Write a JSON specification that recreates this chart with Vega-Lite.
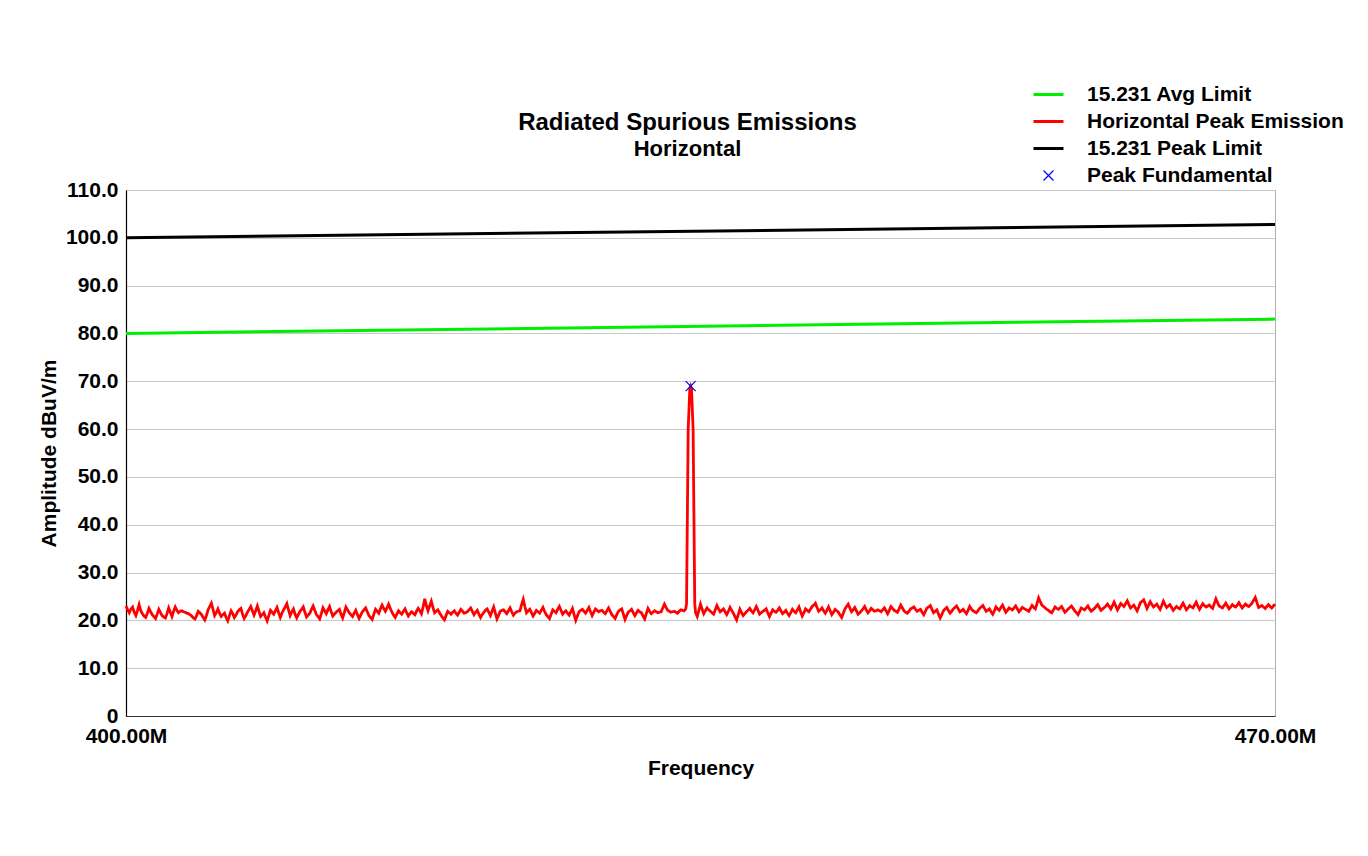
{
  "$schema": "https://vega.github.io/schema/vega-lite/v6.json",
  "width": 1149,
  "height": 526,
  "autosize": {"type": "none"},
  "padding": {"left": 126, "top": 190, "right": 93, "bottom": 140},
  "background": "white",
  "title": {
    "text": "Radiated Spurious Emissions",
    "subtitle": "Horizontal",
    "anchor": "middle",
    "frame": "group",
    "dx": -13,
    "offset": -76,
    "font": "Liberation Sans",
    "fontSize": 24,
    "fontWeight": "bold",
    "color": "#000",
    "subtitleFont": "Liberation Sans",
    "subtitleFontSize": 22,
    "subtitleFontWeight": "bold",
    "subtitleColor": "#000",
    "subtitlePadding": 4
  },
  "config": {
    "view": {"stroke": "#b0b0b0", "strokeWidth": 1},
    "font": "Liberation Sans"
  },
  "datasets": {
    "limits": [
      {"f": 400, "v": 80.0, "s": "15.231 Avg Limit"},
      {"f": 470, "v": 83.0, "s": "15.231 Avg Limit"},
      {"f": 400, "v": 100.0, "s": "15.231 Peak Limit"},
      {"f": 470, "v": 102.8, "s": "15.231 Peak Limit"}
    ],
    "peak": [{"f": 434.4, "v": 69.0}],
    "ticksMajor": [{"t":0},{"t":10},{"t":20},{"t":30},{"t":40},{"t":50},{"t":60},{"t":70},{"t":80},{"t":90},{"t":100},{"t":110}],
    "ticksMinor": [{"t":2},{"t":4},{"t":6},{"t":8},{"t":12},{"t":14},{"t":16},{"t":18},{"t":22},{"t":24},{"t":26},{"t":28},{"t":32},{"t":34},{"t":36},{"t":38},{"t":42},{"t":44},{"t":46},{"t":48},{"t":52},{"t":54},{"t":56},{"t":58},{"t":62},{"t":64},{"t":66},{"t":68},{"t":72},{"t":74},{"t":76},{"t":78},{"t":82},{"t":84},{"t":86},{"t":88},{"t":92},{"t":94},{"t":96},{"t":98},{"t":102},{"t":104},{"t":106},{"t":108}],
    "noise": [
      {"f":400.0,"v":23.0},{"f":400.1,"v":22.2},{"f":400.2,"v":21.6},{"f":400.3,"v":22.4},{"f":400.4,"v":22.8},{"f":400.5,"v":21.7},{"f":400.6,"v":21.0},{"f":400.7,"v":22.1},{"f":400.8,"v":23.3},{"f":400.9,"v":22.0},
      {"f":401.0,"v":21.4},{"f":401.1,"v":20.9},{"f":401.2,"v":20.6},{"f":401.3,"v":21.5},{"f":401.4,"v":22.5},{"f":401.5,"v":21.8},{"f":401.6,"v":21.2},{"f":401.7,"v":20.8},{"f":401.8,"v":20.4},{"f":401.9,"v":21.3},
      {"f":402.0,"v":22.3},{"f":402.1,"v":21.6},{"f":402.2,"v":21.0},{"f":402.3,"v":20.7},{"f":402.4,"v":20.5},{"f":402.5,"v":21.4},{"f":402.6,"v":22.6},{"f":402.7,"v":21.7},{"f":402.8,"v":20.8},{"f":402.9,"v":21.9},
      {"f":403.0,"v":22.8},{"f":403.1,"v":22.1},{"f":403.2,"v":21.6},{"f":403.3,"v":21.9},{"f":403.4,"v":22.0},{"f":403.5,"v":21.8},{"f":403.6,"v":21.7},{"f":403.7,"v":21.5},{"f":403.8,"v":21.4},{"f":403.9,"v":21.2},
      {"f":404.0,"v":20.9},{"f":404.1,"v":20.5},{"f":404.2,"v":20.3},{"f":404.3,"v":21.0},{"f":404.4,"v":21.9},{"f":404.5,"v":21.6},{"f":404.6,"v":21.2},{"f":404.7,"v":20.6},{"f":404.8,"v":20.1},{"f":404.9,"v":21.0},
      {"f":405.0,"v":22.2},{"f":405.1,"v":22.9},{"f":405.2,"v":23.6},{"f":405.3,"v":22.3},{"f":405.4,"v":21.0},{"f":405.5,"v":21.6},{"f":405.6,"v":22.4},{"f":405.7,"v":21.5},{"f":405.8,"v":20.8},{"f":405.9,"v":21.2},
      {"f":406.0,"v":21.5},{"f":406.1,"v":20.6},{"f":406.2,"v":19.9},{"f":406.3,"v":21.0},{"f":406.4,"v":22.0},{"f":406.5,"v":21.4},{"f":406.6,"v":20.6},{"f":406.7,"v":21.1},{"f":406.8,"v":21.8},{"f":406.9,"v":22.2},
      {"f":407.0,"v":22.5},{"f":407.1,"v":21.3},{"f":407.2,"v":20.4},{"f":407.3,"v":21.0},{"f":407.4,"v":21.7},{"f":407.5,"v":22.3},{"f":407.6,"v":22.9},{"f":407.7,"v":22.0},{"f":407.8,"v":21.1},{"f":407.9,"v":22.0},
      {"f":408.0,"v":23.0},{"f":408.1,"v":21.9},{"f":408.2,"v":20.8},{"f":408.3,"v":21.2},{"f":408.4,"v":21.6},{"f":408.5,"v":20.7},{"f":408.6,"v":19.9},{"f":408.7,"v":21.0},{"f":408.8,"v":22.1},{"f":408.9,"v":21.7},
      {"f":409.0,"v":21.3},{"f":409.1,"v":22.0},{"f":409.2,"v":22.7},{"f":409.3,"v":21.6},{"f":409.4,"v":20.6},{"f":409.5,"v":21.5},{"f":409.6,"v":22.2},{"f":409.7,"v":22.8},{"f":409.8,"v":23.5},{"f":409.9,"v":22.2},
      {"f":410.0,"v":21.0},{"f":410.1,"v":21.8},{"f":410.2,"v":22.4},{"f":410.3,"v":21.3},{"f":410.4,"v":20.5},{"f":410.5,"v":21.2},{"f":410.6,"v":21.9},{"f":410.7,"v":22.3},{"f":410.8,"v":22.8},{"f":410.9,"v":21.7},
      {"f":411.0,"v":20.7},{"f":411.1,"v":21.1},{"f":411.2,"v":21.5},{"f":411.3,"v":22.3},{"f":411.4,"v":23.0},{"f":411.5,"v":22.1},{"f":411.6,"v":21.2},{"f":411.7,"v":20.8},{"f":411.8,"v":20.3},{"f":411.9,"v":21.4},
      {"f":412.0,"v":22.6},{"f":412.1,"v":22.0},{"f":412.2,"v":21.4},{"f":412.3,"v":22.2},{"f":412.4,"v":22.9},{"f":412.5,"v":21.8},{"f":412.6,"v":20.9},{"f":412.7,"v":21.3},{"f":412.8,"v":21.7},{"f":412.9,"v":22.0},
      {"f":413.0,"v":22.3},{"f":413.1,"v":21.3},{"f":413.2,"v":20.5},{"f":413.3,"v":21.6},{"f":413.4,"v":22.8},{"f":413.5,"v":22.2},{"f":413.6,"v":21.6},{"f":413.7,"v":21.2},{"f":413.8,"v":20.8},{"f":413.9,"v":21.5},
      {"f":414.0,"v":22.1},{"f":414.1,"v":21.2},{"f":414.2,"v":20.4},{"f":414.3,"v":21.1},{"f":414.4,"v":21.8},{"f":414.5,"v":22.2},{"f":414.6,"v":22.6},{"f":414.7,"v":21.8},{"f":414.8,"v":21.0},{"f":414.9,"v":20.6},
      {"f":415.0,"v":20.2},{"f":415.1,"v":21.3},{"f":415.2,"v":22.3},{"f":415.3,"v":21.9},{"f":415.4,"v":21.5},{"f":415.5,"v":22.4},{"f":415.6,"v":23.2},{"f":415.7,"v":22.5},{"f":415.8,"v":21.9},{"f":415.9,"v":22.6},
      {"f":416.0,"v":23.4},{"f":416.1,"v":22.5},{"f":416.2,"v":21.7},{"f":416.3,"v":21.1},{"f":416.4,"v":20.6},{"f":416.5,"v":21.3},{"f":416.6,"v":22.0},{"f":416.7,"v":21.6},{"f":416.8,"v":21.3},{"f":416.9,"v":21.9},
      {"f":417.0,"v":22.4},{"f":417.1,"v":21.6},{"f":417.2,"v":20.9},{"f":417.3,"v":21.4},{"f":417.4,"v":21.8},{"f":417.5,"v":21.5},{"f":417.6,"v":21.2},{"f":417.7,"v":21.9},{"f":417.8,"v":22.5},{"f":417.9,"v":22.0},
      {"f":418.0,"v":21.4},{"f":418.1,"v":22.8},{"f":418.2,"v":24.5},{"f":418.3,"v":23.1},{"f":418.4,"v":22.0},{"f":418.5,"v":23.0},{"f":418.6,"v":24.0},{"f":418.7,"v":22.7},{"f":418.8,"v":21.6},{"f":418.9,"v":21.9},
      {"f":419.0,"v":22.2},{"f":419.1,"v":21.6},{"f":419.2,"v":21.0},{"f":419.3,"v":20.5},{"f":419.4,"v":20.1},{"f":419.5,"v":21.0},{"f":419.6,"v":21.9},{"f":419.7,"v":21.6},{"f":419.8,"v":21.3},{"f":419.9,"v":21.7},
      {"f":420.0,"v":22.0},{"f":420.1,"v":21.5},{"f":420.2,"v":21.1},{"f":420.3,"v":21.7},{"f":420.4,"v":22.3},{"f":420.5,"v":21.9},{"f":420.6,"v":21.5},{"f":420.7,"v":21.6},{"f":420.8,"v":21.8},{"f":420.9,"v":22.2},
      {"f":421.0,"v":22.6},{"f":421.1,"v":21.9},{"f":421.2,"v":21.2},{"f":421.3,"v":21.7},{"f":421.4,"v":22.1},{"f":421.5,"v":21.3},{"f":421.6,"v":20.6},{"f":421.7,"v":21.2},{"f":421.8,"v":21.7},{"f":421.9,"v":22.1},
      {"f":422.0,"v":22.4},{"f":422.1,"v":21.7},{"f":422.2,"v":21.0},{"f":422.3,"v":21.9},{"f":422.4,"v":22.8},{"f":422.5,"v":21.5},{"f":422.6,"v":20.3},{"f":422.7,"v":21.1},{"f":422.8,"v":21.9},{"f":422.9,"v":22.1},
      {"f":423.0,"v":22.2},{"f":423.1,"v":21.8},{"f":423.2,"v":21.4},{"f":423.3,"v":22.0},{"f":423.4,"v":22.6},{"f":423.5,"v":21.8},{"f":423.6,"v":21.1},{"f":423.7,"v":21.5},{"f":423.8,"v":21.8},{"f":423.9,"v":21.9},
      {"f":424.0,"v":22.0},{"f":424.1,"v":23.3},{"f":424.2,"v":24.4},{"f":424.3,"v":22.9},{"f":424.4,"v":21.6},{"f":424.5,"v":22.0},{"f":424.6,"v":22.3},{"f":424.7,"v":21.6},{"f":424.8,"v":20.9},{"f":424.9,"v":21.5},
      {"f":425.0,"v":22.1},{"f":425.1,"v":21.8},{"f":425.2,"v":21.5},{"f":425.3,"v":22.1},{"f":425.4,"v":22.7},{"f":425.5,"v":21.9},{"f":425.6,"v":21.2},{"f":425.7,"v":20.8},{"f":425.8,"v":20.4},{"f":425.9,"v":21.3},
      {"f":426.0,"v":22.2},{"f":426.1,"v":21.9},{"f":426.2,"v":21.6},{"f":426.3,"v":22.3},{"f":426.4,"v":22.9},{"f":426.5,"v":22.1},{"f":426.6,"v":21.3},{"f":426.7,"v":21.7},{"f":426.8,"v":22.0},{"f":426.9,"v":21.5},
      {"f":427.0,"v":21.1},{"f":427.1,"v":21.8},{"f":427.2,"v":22.5},{"f":427.3,"v":21.2},{"f":427.4,"v":20.0},{"f":427.5,"v":20.9},{"f":427.6,"v":21.8},{"f":427.7,"v":22.1},{"f":427.8,"v":22.3},{"f":427.9,"v":21.9},
      {"f":428.0,"v":21.5},{"f":428.1,"v":22.1},{"f":428.2,"v":22.7},{"f":428.3,"v":21.8},{"f":428.4,"v":21.0},{"f":428.5,"v":21.7},{"f":428.6,"v":22.4},{"f":428.7,"v":22.1},{"f":428.8,"v":21.8},{"f":428.9,"v":22.0},
      {"f":429.0,"v":22.1},{"f":429.1,"v":21.7},{"f":429.2,"v":21.4},{"f":429.3,"v":22.0},{"f":429.4,"v":22.6},{"f":429.5,"v":21.9},{"f":429.6,"v":21.2},{"f":429.7,"v":20.8},{"f":429.8,"v":20.4},{"f":429.9,"v":21.2},
      {"f":430.0,"v":21.9},{"f":430.1,"v":22.2},{"f":430.2,"v":22.4},{"f":430.3,"v":21.3},{"f":430.4,"v":20.2},{"f":430.5,"v":21.0},{"f":430.6,"v":21.7},{"f":430.7,"v":22.0},{"f":430.8,"v":22.3},{"f":430.9,"v":21.6},
      {"f":431.0,"v":21.0},{"f":431.1,"v":21.6},{"f":431.2,"v":22.1},{"f":431.3,"v":21.8},{"f":431.4,"v":21.6},{"f":431.5,"v":20.9},{"f":431.6,"v":20.3},{"f":431.7,"v":21.4},{"f":431.8,"v":22.5},{"f":431.9,"v":21.9},
      {"f":432.0,"v":21.4},{"f":432.1,"v":21.7},{"f":432.2,"v":22.0},{"f":432.3,"v":21.8},{"f":432.4,"v":21.6},{"f":432.5,"v":21.7},{"f":432.6,"v":21.8},{"f":432.7,"v":22.6},{"f":432.8,"v":23.4},{"f":432.9,"v":22.7},
      {"f":433.0,"v":22.1},{"f":433.1,"v":21.9},{"f":433.2,"v":21.7},{"f":433.3,"v":21.8},{"f":433.4,"v":21.9},{"f":433.5,"v":21.7},{"f":433.6,"v":21.5},{"f":433.7,"v":21.9},{"f":433.8,"v":22.2},{"f":433.9,"v":22.1},
      {"f":434.0,"v":22.0},{"f":434.1,"v":22.4},{"f":434.15,"v":23.5},{"f":434.25,"v":60.0},{"f":434.35,"v":68.5},{"f":434.4,"v":69.0},{"f":434.45,"v":68.5},{"f":434.55,"v":60.0},{"f":434.65,"v":23.5},{"f":434.7,"v":21.6},{"f":434.8,"v":20.8},{"f":434.9,"v":22.1},
      {"f":435.0,"v":23.4},{"f":435.1,"v":22.3},{"f":435.2,"v":21.4},{"f":435.3,"v":22.0},{"f":435.4,"v":22.6},{"f":435.5,"v":22.2},{"f":435.6,"v":21.9},{"f":435.7,"v":21.6},{"f":435.8,"v":21.3},{"f":435.9,"v":22.2},
      {"f":436.0,"v":23.1},{"f":436.1,"v":22.4},{"f":436.2,"v":21.8},{"f":436.3,"v":22.1},{"f":436.4,"v":22.4},{"f":436.5,"v":21.8},{"f":436.6,"v":21.2},{"f":436.7,"v":21.9},{"f":436.8,"v":22.7},{"f":436.9,"v":22.1},
      {"f":437.0,"v":21.5},{"f":437.1,"v":20.8},{"f":437.2,"v":20.1},{"f":437.3,"v":21.2},{"f":437.4,"v":22.3},{"f":437.5,"v":21.6},{"f":437.6,"v":21.0},{"f":437.7,"v":21.4},{"f":437.8,"v":21.8},{"f":437.9,"v":22.1},
      {"f":438.0,"v":22.5},{"f":438.1,"v":22.0},{"f":438.2,"v":21.6},{"f":438.3,"v":22.2},{"f":438.4,"v":22.9},{"f":438.5,"v":22.1},{"f":438.6,"v":21.3},{"f":438.7,"v":21.6},{"f":438.8,"v":21.9},{"f":438.9,"v":22.1},
      {"f":439.0,"v":22.4},{"f":439.1,"v":21.6},{"f":439.2,"v":20.8},{"f":439.3,"v":21.5},{"f":439.4,"v":22.2},{"f":439.5,"v":21.9},{"f":439.6,"v":21.7},{"f":439.7,"v":22.1},{"f":439.8,"v":22.6},{"f":439.9,"v":22.0},
      {"f":440.0,"v":21.4},{"f":440.1,"v":21.7},{"f":440.2,"v":22.1},{"f":440.3,"v":21.5},{"f":440.4,"v":21.0},{"f":440.5,"v":21.6},{"f":440.6,"v":22.3},{"f":440.7,"v":21.9},{"f":440.8,"v":21.6},{"f":440.9,"v":22.2},
      {"f":441.0,"v":22.8},{"f":441.1,"v":21.8},{"f":441.2,"v":20.9},{"f":441.3,"v":21.6},{"f":441.4,"v":22.4},{"f":441.5,"v":22.1},{"f":441.6,"v":21.8},{"f":441.7,"v":22.3},{"f":441.8,"v":22.9},{"f":441.9,"v":23.2},
      {"f":442.0,"v":23.6},{"f":442.1,"v":22.7},{"f":442.2,"v":21.9},{"f":442.3,"v":22.2},{"f":442.4,"v":22.6},{"f":442.5,"v":22.0},{"f":442.6,"v":21.5},{"f":442.7,"v":22.1},{"f":442.8,"v":22.8},{"f":442.9,"v":22.0},
      {"f":443.0,"v":21.2},{"f":443.1,"v":21.7},{"f":443.2,"v":22.3},{"f":443.3,"v":22.0},{"f":443.4,"v":21.7},{"f":443.5,"v":21.1},{"f":443.6,"v":20.6},{"f":443.7,"v":21.5},{"f":443.8,"v":22.4},{"f":443.9,"v":22.9},
      {"f":444.0,"v":23.4},{"f":444.1,"v":22.6},{"f":444.2,"v":21.8},{"f":444.3,"v":22.2},{"f":444.4,"v":22.7},{"f":444.5,"v":22.0},{"f":444.6,"v":21.3},{"f":444.7,"v":21.6},{"f":444.8,"v":22.0},{"f":444.9,"v":22.4},
      {"f":445.0,"v":22.9},{"f":445.1,"v":22.2},{"f":445.2,"v":21.6},{"f":445.3,"v":22.0},{"f":445.4,"v":22.5},{"f":445.5,"v":22.2},{"f":445.6,"v":21.9},{"f":445.7,"v":22.0},{"f":445.8,"v":22.2},{"f":445.9,"v":22.0},
      {"f":446.0,"v":21.8},{"f":446.1,"v":22.2},{"f":446.2,"v":22.6},{"f":446.3,"v":22.0},{"f":446.4,"v":21.4},{"f":446.5,"v":22.1},{"f":446.6,"v":22.9},{"f":446.7,"v":22.5},{"f":446.8,"v":22.1},{"f":446.9,"v":21.9},
      {"f":447.0,"v":21.7},{"f":447.1,"v":22.4},{"f":447.2,"v":23.2},{"f":447.3,"v":22.6},{"f":447.4,"v":22.0},{"f":447.5,"v":21.7},{"f":447.6,"v":21.5},{"f":447.7,"v":21.9},{"f":447.8,"v":22.4},{"f":447.9,"v":22.6},
      {"f":448.0,"v":22.8},{"f":448.1,"v":22.3},{"f":448.2,"v":21.9},{"f":448.3,"v":22.1},{"f":448.4,"v":22.3},{"f":448.5,"v":21.7},{"f":448.6,"v":21.2},{"f":448.7,"v":21.9},{"f":448.8,"v":22.6},{"f":448.9,"v":22.8},
      {"f":449.0,"v":23.1},{"f":449.1,"v":22.3},{"f":449.2,"v":21.6},{"f":449.3,"v":21.9},{"f":449.4,"v":22.2},{"f":449.5,"v":21.3},{"f":449.6,"v":20.5},{"f":449.7,"v":21.2},{"f":449.8,"v":22.0},{"f":449.9,"v":22.4},
      {"f":450.0,"v":22.7},{"f":450.1,"v":22.1},{"f":450.2,"v":21.5},{"f":450.3,"v":21.9},{"f":450.4,"v":22.4},{"f":450.5,"v":22.7},{"f":450.6,"v":23.0},{"f":450.7,"v":22.4},{"f":450.8,"v":21.8},{"f":450.9,"v":22.0},
      {"f":451.0,"v":22.3},{"f":451.1,"v":21.8},{"f":451.2,"v":21.4},{"f":451.3,"v":22.1},{"f":451.4,"v":22.9},{"f":451.5,"v":22.4},{"f":451.6,"v":22.0},{"f":451.7,"v":21.8},{"f":451.8,"v":21.6},{"f":451.9,"v":22.0},
      {"f":452.0,"v":22.5},{"f":452.1,"v":22.8},{"f":452.2,"v":23.1},{"f":452.3,"v":22.5},{"f":452.4,"v":21.9},{"f":452.5,"v":22.1},{"f":452.6,"v":22.4},{"f":452.7,"v":21.8},{"f":452.8,"v":21.3},{"f":452.9,"v":22.0},
      {"f":453.0,"v":22.8},{"f":453.1,"v":22.4},{"f":453.2,"v":22.1},{"f":453.3,"v":22.7},{"f":453.4,"v":23.2},{"f":453.5,"v":22.4},{"f":453.6,"v":21.7},{"f":453.7,"v":22.1},{"f":453.8,"v":22.6},{"f":453.9,"v":22.4},
      {"f":454.0,"v":22.2},{"f":454.1,"v":22.6},{"f":454.2,"v":23.0},{"f":454.3,"v":22.4},{"f":454.4,"v":21.8},{"f":454.5,"v":22.2},{"f":454.6,"v":22.7},{"f":454.7,"v":22.5},{"f":454.8,"v":22.3},{"f":454.9,"v":22.1},
      {"f":455.0,"v":21.9},{"f":455.1,"v":22.5},{"f":455.2,"v":23.1},{"f":455.3,"v":22.7},{"f":455.4,"v":22.4},{"f":455.5,"v":23.5},{"f":455.6,"v":24.7},{"f":455.7,"v":23.9},{"f":455.8,"v":23.2},{"f":455.9,"v":22.9},
      {"f":456.0,"v":22.6},{"f":456.1,"v":22.3},{"f":456.2,"v":22.1},{"f":456.3,"v":21.8},{"f":456.4,"v":21.6},{"f":456.5,"v":22.2},{"f":456.6,"v":22.8},{"f":456.7,"v":22.5},{"f":456.8,"v":22.3},{"f":456.9,"v":22.6},
      {"f":457.0,"v":22.9},{"f":457.1,"v":22.3},{"f":457.2,"v":21.7},{"f":457.3,"v":22.0},{"f":457.4,"v":22.4},{"f":457.5,"v":22.7},{"f":457.6,"v":23.0},{"f":457.7,"v":22.5},{"f":457.8,"v":22.0},{"f":457.9,"v":21.6},
      {"f":458.0,"v":21.2},{"f":458.1,"v":21.9},{"f":458.2,"v":22.6},{"f":458.3,"v":22.4},{"f":458.4,"v":22.2},{"f":458.5,"v":22.6},{"f":458.6,"v":23.0},{"f":458.7,"v":22.4},{"f":458.8,"v":21.9},{"f":458.9,"v":22.2},
      {"f":459.0,"v":22.5},{"f":459.1,"v":22.9},{"f":459.2,"v":23.3},{"f":459.3,"v":22.7},{"f":459.4,"v":22.1},{"f":459.5,"v":22.4},{"f":459.6,"v":22.7},{"f":459.7,"v":23.0},{"f":459.8,"v":23.4},{"f":459.9,"v":22.9},
      {"f":460.0,"v":22.4},{"f":460.1,"v":23.1},{"f":460.2,"v":23.8},{"f":460.3,"v":23.0},{"f":460.4,"v":22.2},{"f":460.5,"v":22.8},{"f":460.6,"v":23.5},{"f":460.7,"v":23.2},{"f":460.8,"v":22.9},{"f":460.9,"v":23.5},
      {"f":461.0,"v":24.1},{"f":461.1,"v":23.3},{"f":461.2,"v":22.6},{"f":461.3,"v":22.9},{"f":461.4,"v":23.2},{"f":461.5,"v":22.6},{"f":461.6,"v":22.0},{"f":461.7,"v":22.8},{"f":461.8,"v":23.7},{"f":461.9,"v":24.0},
      {"f":462.0,"v":24.3},{"f":462.1,"v":23.4},{"f":462.2,"v":22.5},{"f":462.3,"v":23.2},{"f":462.4,"v":23.9},{"f":462.5,"v":23.3},{"f":462.6,"v":22.8},{"f":462.7,"v":23.1},{"f":462.8,"v":23.4},{"f":462.9,"v":22.8},
      {"f":463.0,"v":22.3},{"f":463.1,"v":23.1},{"f":463.2,"v":24.0},{"f":463.3,"v":23.3},{"f":463.4,"v":22.7},{"f":463.5,"v":23.0},{"f":463.6,"v":23.3},{"f":463.7,"v":22.7},{"f":463.8,"v":22.1},{"f":463.9,"v":22.5},
      {"f":464.0,"v":22.9},{"f":464.1,"v":22.6},{"f":464.2,"v":22.4},{"f":464.3,"v":23.0},{"f":464.4,"v":23.6},{"f":464.5,"v":22.9},{"f":464.6,"v":22.2},{"f":464.7,"v":22.6},{"f":464.8,"v":23.1},{"f":464.9,"v":22.8},
      {"f":465.0,"v":22.6},{"f":465.1,"v":23.2},{"f":465.2,"v":23.8},{"f":465.3,"v":23.0},{"f":465.4,"v":22.3},{"f":465.5,"v":22.9},{"f":465.6,"v":23.5},{"f":465.7,"v":23.1},{"f":465.8,"v":22.8},{"f":465.9,"v":23.0},
      {"f":466.0,"v":23.2},{"f":466.1,"v":22.8},{"f":466.2,"v":22.5},{"f":466.3,"v":23.5},{"f":466.4,"v":24.5},{"f":466.5,"v":23.7},{"f":466.6,"v":23.0},{"f":466.7,"v":22.8},{"f":466.8,"v":22.6},{"f":466.9,"v":23.1},
      {"f":467.0,"v":23.6},{"f":467.1,"v":23.0},{"f":467.2,"v":22.4},{"f":467.3,"v":22.8},{"f":467.4,"v":23.3},{"f":467.5,"v":23.0},{"f":467.6,"v":22.8},{"f":467.7,"v":23.2},{"f":467.8,"v":23.7},{"f":467.9,"v":23.1},
      {"f":468.0,"v":22.6},{"f":468.1,"v":23.0},{"f":468.2,"v":23.4},{"f":468.3,"v":23.1},{"f":468.4,"v":22.9},{"f":468.5,"v":23.2},{"f":468.6,"v":23.6},{"f":468.7,"v":24.2},{"f":468.8,"v":24.8},{"f":468.9,"v":23.7},
      {"f":469.0,"v":22.7},{"f":469.1,"v":22.9},{"f":469.2,"v":23.1},{"f":469.3,"v":22.8},{"f":469.4,"v":22.5},{"f":469.5,"v":22.9},{"f":469.6,"v":23.3},{"f":469.7,"v":22.9},{"f":469.8,"v":22.6},{"f":469.9,"v":23.0},
      {"f":470.0,"v":23.4}
    ]
  },
  "encoding": {
    "x": {
      "field": "f",
      "type": "quantitative",
      "scale": {"domain": [400, 470], "nice": false, "zero": false},
      "axis": {
        "title": "Frequency",
        "values": [400, 470],
        "labelExpr": "format(datum.value, '.2f') + 'M'",
        "labelFlush": false,
        "labelFont": "Liberation Sans",
        "labelFontSize": 21,
        "labelFontWeight": "bold",
        "labelColor": "#000",
        "labelPadding": 9,
        "ticks": false,
        "tickSize": 0,
        "grid": false,
        "domainColor": "#333",
        "domainWidth": 1,
        "titleFont": "Liberation Sans",
        "titleFontSize": 21,
        "titleFontWeight": "bold",
        "titleColor": "#000",
        "titlePadding": 11
      }
    },
    "y": {
      "field": "v",
      "type": "quantitative",
      "scale": {"domain": [0, 110], "nice": false},
      "axis": {
        "title": "Amplitude dBuV/m",
        "values": [0, 10, 20, 30, 40, 50, 60, 70, 80, 90, 100, 110],
        "labelExpr": "datum.value == 0 ? '0' : format(datum.value, '.1f')",
        "labelFont": "Liberation Sans",
        "labelFontSize": 21,
        "labelFontWeight": "bold",
        "labelColor": "#000",
        "labelPadding": 8,
        "ticks": false,
        "tickSize": 0,
        "grid": true,
        "gridColor": "#c8c8c8",
        "gridWidth": 1,
        "domainColor": "#000",
        "domainWidth": 1.2,
        "titleFont": "Liberation Sans",
        "titleFontSize": 21,
        "titleFontWeight": "bold",
        "titleColor": "#000",
        "titlePadding": 6
      }
    }
  },
  "layer": [
    {
      "data": {"name": "limits"},
      "mark": {"type": "line", "strokeWidth": 3},
      "encoding": {
        "detail": {"field": "s"},
        "color": {
          "field": "s",
          "type": "nominal",
          "scale": {
            "domain": ["15.231 Avg Limit", "Horizontal Peak Emission", "15.231 Peak Limit", "Peak Fundamental"],
            "range": ["#00ee00", "#ff0000", "#000000", "#0000ff"]
          },
          "legend": {
            "title": null,
            "orient": "none",
            "legendX": 912,
            "legendY": -106,
            "labelFont": "Liberation Sans",
            "labelFontSize": 21,
            "labelFontWeight": "bold",
            "labelColor": "#000",
            "labelLimit": 400,
            "labelOffset": 28,
            "rowPadding": 5,
            "symbolSize": 400,
            "symbolStrokeWidth": 3,
            "symbolType": "M-1.5,0H1.5",
            "encode": {
              "symbols": {
                "update": {
                  "shape": {"signal": "datum.value === 'Peak Fundamental' ? 'M-0.5,-0.5L0.5,0.5M0.5,-0.5L-0.5,0.5' : 'M-1.5,0H1.5'"},
                  "strokeWidth": {"signal": "datum.value === 'Peak Fundamental' ? 1.2 : 3"},
                  "fill": {"value": "transparent"},
                  "stroke": {"signal": "scale('color', datum.value)"}
                }
              }
            }
          }
        }
      }
    },
    {
      "data": {"name": "noise"},
      "mark": {"type": "line", "strokeWidth": 2.8},
      "encoding": {"color": {"datum": "Horizontal Peak Emission", "type": "nominal"}}
    },
    {
      "data": {"name": "peak"},
      "mark": {"type": "point", "shape": "M-1,-1L1,1M1,-1L-1,1", "filled": false, "size": 100, "strokeWidth": 1.2, "opacity": 1},
      "encoding": {"color": {"datum": "Peak Fundamental", "type": "nominal"}}
    },
    {
      "data": {"name": "ticksMajor"},
      "mark": {"type": "tick", "orient": "horizontal", "color": "#000", "thickness": 1, "size": 11},
      "encoding": {"x": {"datum": 400, "type": "quantitative"}, "y": {"field": "t", "type": "quantitative"}}
    },
    {
      "data": {"name": "ticksMinor"},
      "mark": {"type": "tick", "orient": "horizontal", "color": "#000", "thickness": 1, "size": 7},
      "encoding": {"x": {"datum": 400, "type": "quantitative"}, "y": {"field": "t", "type": "quantitative"}}
    }
  ]
}
